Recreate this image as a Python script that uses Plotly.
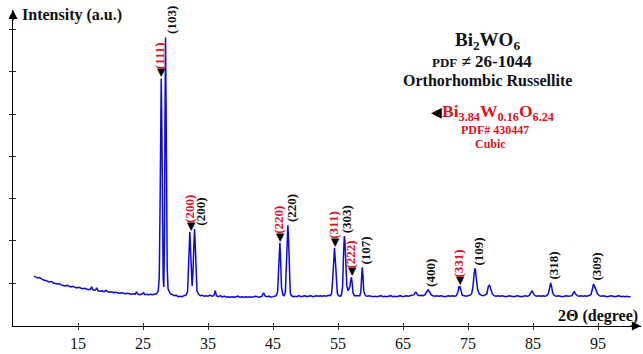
import plotly.graph_objects as go

# ---------------- data ----------------
two_theta = [
    8.2, 8.5, 8.8, 9.1, 9.4, 9.7, 10.0, 10.3, 10.6, 10.9, 11.2, 11.5, 11.8, 12.1, 12.4, 12.7,
    13.0, 13.3, 13.6, 13.9, 14.2, 14.5, 14.8, 15.1, 15.4, 15.7, 16.0, 16.3, 16.6, 16.9, 17.1,
    17.3, 17.6, 17.9, 18.1, 18.4, 18.7, 19.0, 19.3, 19.6, 19.9, 20.2, 20.5, 20.8, 21.1, 21.4,
    21.7, 22.0, 22.3, 22.6, 22.9, 23.2, 23.5, 23.8, 24.0, 24.2, 24.5, 24.8, 25.1, 25.3, 25.6,
    25.9, 26.2, 26.5, 26.8, 27.1, 27.35, 27.5, 27.62, 27.72, 27.8, 27.88, 27.98, 28.1, 28.2,
    28.3, 28.38, 28.46, 28.54, 28.62, 28.72, 28.85, 29.0, 29.2, 29.5, 29.8, 30.1, 30.4, 30.7,
    31.0, 31.3, 31.6, 31.85, 32.0, 32.1, 32.2, 32.3, 32.42, 32.55, 32.68, 32.8, 32.92, 33.02,
    33.15, 33.3, 33.5, 33.8, 34.1, 34.4, 34.7, 35.0, 35.3, 35.6, 35.9, 36.1, 36.3, 36.6, 36.9,
    37.2, 37.5, 37.8, 38.1, 38.4, 38.7, 39.0, 39.3, 39.6, 39.9, 40.2, 40.5, 40.8, 41.1, 41.4,
    41.7, 42.0, 42.3, 42.6, 42.9, 43.3, 43.55, 43.8, 44.1, 44.4, 44.7, 45.0, 45.3, 45.5, 45.7,
    45.85, 45.95, 46.05, 46.15, 46.3, 46.5, 46.7, 46.9, 47.05, 47.18, 47.28, 47.38, 47.5, 47.65,
    47.85, 48.1, 48.4, 48.7, 49.0, 49.3, 49.6, 49.9, 50.2, 50.5, 50.8, 51.1, 51.4, 51.7, 52.0,
    52.3, 52.6, 52.9, 53.2, 53.5, 53.8, 54.0, 54.15, 54.3, 54.45, 54.6, 54.75, 54.9, 55.1, 55.3,
    55.5, 55.7, 55.85, 55.97, 56.07, 56.2, 56.35, 56.55, 56.8, 56.95, 57.05, 57.15, 57.3, 57.5,
    57.8, 58.1, 58.35, 58.5, 58.62, 58.72, 58.82, 58.95, 59.2, 59.5, 59.8, 60.1, 60.4, 60.7,
    61.0, 61.3, 61.6, 61.9, 62.2, 62.5, 62.8, 63.1, 63.4, 63.7, 64.0, 64.3, 64.6, 64.9, 65.2,
    65.5, 65.8, 66.1, 66.4, 66.7, 66.95, 67.2, 67.5, 67.8, 68.1, 68.4, 68.65, 68.85, 69.05,
    69.3, 69.6, 69.9, 70.2, 70.5, 70.8, 71.1, 71.4, 71.7, 72.0, 72.3, 72.6, 72.9, 73.2, 73.45,
    73.6, 73.75, 73.9, 74.1, 74.4, 74.7, 75.0, 75.3, 75.55, 75.75, 75.95, 76.1, 76.25, 76.45,
    76.7, 77.0, 77.3, 77.6, 77.9, 78.1, 78.3, 78.5, 78.7, 79.0, 79.3, 79.6, 79.9, 80.2, 80.5,
    80.8, 81.1, 81.4, 81.7, 82.0, 82.3, 82.6, 82.9, 83.2, 83.5, 83.8, 84.1, 84.4, 84.65, 84.85,
    85.05, 85.3, 85.6, 85.9, 86.2, 86.5, 86.8, 87.1, 87.35, 87.55, 87.7, 87.85, 88.05, 88.3,
    88.6, 88.9, 89.2, 89.5, 89.8, 90.1, 90.4, 90.7, 91.0, 91.2, 91.35, 91.5, 91.8, 92.1, 92.4,
    92.7, 93.0, 93.3, 93.6, 93.9, 94.1, 94.3, 94.5, 94.7, 94.9, 95.2, 95.5, 95.8, 96.1, 96.4,
    96.7, 97.0, 97.3, 97.6, 97.9, 98.2, 98.5, 98.8, 99.1, 99.4, 99.7, 100.0,
]
intensity = [
    51, 50, 49, 49.5, 48, 47, 46.5, 46, 45, 45.5, 44, 43.5, 43, 43.5, 42, 41.5,
    41, 41.5, 40.5, 40, 40.5, 39.5, 39, 39.5, 38.5, 38, 38.5, 37.5, 37, 37.5, 40,
    37, 36.5, 38.5, 36, 35.5, 36, 35, 36.5, 35, 34.5, 35, 34, 34.5, 34, 33.5,
    34, 33.5, 33, 33.5, 33, 32.5, 33, 32.5, 35, 32.5, 32, 32.5, 34, 32, 32.5,
    32, 32.5, 32, 32.5, 33, 36, 50, 120, 210, 253, 215, 120, 48, 40,
    90, 210, 295, 230, 130, 60, 38, 35, 33, 32, 31, 31.5, 30, 30.5,
    30, 31, 31.5, 35, 55, 80, 96, 80, 50, 41, 55, 85, 99, 85,
    50, 36, 33, 31, 31.5, 30.5, 31, 30.5, 31.5, 30.5, 31, 36, 31, 30, 31,
    29.5, 30.5, 29.5, 30, 29.5, 30, 29.5, 30, 30.5, 29.5, 30, 29.5, 30, 29.5, 30,
    29.5, 30, 30.5, 30, 29.5, 30.5, 34, 30.5, 30, 30.5, 29.5, 30, 30.5, 31, 35,
    60, 80, 85, 70, 40, 32, 31, 35, 65, 95, 103, 90, 55, 34,
    31, 30, 30.5, 30, 31, 30, 30.5, 31, 30, 30.5, 31, 30, 30.5, 31, 30.5,
    31, 30.5, 31, 30.5, 31.5, 31, 33, 45, 70, 80, 65, 42, 33, 31, 30.5,
    31, 40, 75, 92, 85, 55, 41, 36, 40, 46, 50, 45, 34, 31,
    31, 30.5, 31, 35, 48, 60, 52, 36, 31, 30.5, 31, 30.5, 30, 30.5,
    30, 30.5, 31, 30, 30.5, 30, 30.5, 31, 30, 30.5, 30, 30.5, 31, 30, 30.5,
    31, 30.5, 31, 31.5, 32, 35, 32, 31, 31.5, 31, 32, 35, 37, 35,
    32, 31, 30.5, 31, 30.5, 31, 30.5, 30, 30.5, 31, 30.5, 31, 30.5, 31, 35,
    40, 40, 35, 31.5, 31, 30.5, 31, 31.5, 33, 40, 55, 59, 50, 38,
    33, 31.5, 31, 31.5, 33, 40, 42, 38, 33, 31, 30.5, 31, 30.5, 31, 30.5,
    30, 30.5, 31, 30.5, 30, 30.5, 31, 30.5, 30, 30.5, 31, 30.5, 31, 34, 36,
    33, 31, 30.5, 31, 30.5, 31, 30.5, 31, 33, 38, 44, 40, 33, 31,
    30.5, 31, 30.5, 30, 30.5, 31, 30.5, 30.5, 31, 34, 35, 33, 31, 30.5, 31,
    30.5, 31, 30.5, 31, 32, 37, 43, 40, 36, 33, 31, 30.5, 31, 30.5, 30,
    30.5, 31, 30.5, 30, 30.5, 31, 30, 30.5, 30, 30.5, 30, 30,
]

# Bi3.84W0.16O6.24 (cubic) reflections -- red, with triangle marker
cubic_pos = [27.8, 32.2, 46.05, 54.45, 57.05, 73.7]
cubic_top = [253, 96, 85, 80, 50, 40]
cubic_hkl = ["(111)", "(200)", "(220)", "(311)", "(222)", "(331)"]

# Bi2WO6 (orthorhombic russellite) reflections -- black
ortho_pos = [28.46, 32.92, 47.28, 55.97, 58.72, 68.85, 76.1, 87.7, 94.3]
ortho_top = [295, 99, 103, 92, 60, 37, 59, 44, 43]
ortho_hkl = ["(103)", "(200)", "(220)", "(303)", "(107)", "(400)", "(109)", "(318)", "(309)"]

x_ticks = [15, 25, 35, 45, 55, 65, 75, 85, 95]
y_ticks = [43, 87, 130, 173, 216, 260, 303]

RED = "#e0101c"
BLUE = "#0b0bd4"
SERIF = "Liberation Serif, Times New Roman, serif"

fig = go.Figure()
fig.add_trace(go.Scatter(x=two_theta, y=intensity, mode="lines",
                         line=dict(color=BLUE, width=1.5), showlegend=False,
                         hoverinfo="skip"))
# dummy trace for overlay axes (crossing ticks)
fig.add_trace(go.Scatter(x=[None], y=[None], xaxis="x2", yaxis="y2",
                         showlegend=False, hoverinfo="skip"))

ann = []
for x, y, t in zip(cubic_pos, cubic_top, cubic_hkl):
    ann.append(dict(x=x, y=y, xref="x", yref="y", showarrow=False, textangle=-90,
                    xanchor="center", yanchor="bottom", yshift=-1, xshift=-1,
                    text=f"<span style='color:black;font-size:11px'>◀</span><b>{t}</b>",
                    font=dict(family=SERIF, size=13, color=RED)))
for x, y, t in zip(ortho_pos, ortho_top, ortho_hkl):
    xs = 6 if t in ("(103)", "(200)") else 3
    ann.append(dict(x=x, y=y, xref="x", yref="y", showarrow=False, textangle=-90,
                    xanchor="center", yanchor="bottom", yshift=1, xshift=xs,
                    text=f"<b>{t}</b>",
                    font=dict(family=SERIF, size=13, color="#111")))

# phase legend text block
ann += [
    dict(x=78.0, y=291, text="<b>Bi<sub>2</sub>WO<sub>6</sub></b>",
         font=dict(family=SERIF, size=19, color="#111")),
    dict(x=77.1, y=270,
         text="<b><span style='font-size:13px'>PDF</span> ≠ 26-1044</b>",
         font=dict(family=SERIF, size=17, color="#111")),
    dict(x=78.0, y=251, text="<b>Orthorhombic Russellite</b>",
         font=dict(family=SERIF, size=16, color="#111")),
    dict(x=78.8, y=218,
         text="<span style='color:black;font-size:14px'>◀</span><b>Bi<sub>3.84</sub>W<sub>0.16</sub>O<sub>6.24</sub></b>",
         font=dict(family=SERIF, size=17.5, color=RED)),
    dict(x=79.1, y=200, text="<b>PDF# 430447</b>",
         font=dict(family=SERIF, size=12, color=RED)),
    dict(x=78.4, y=186, text="<b>Cubic</b>",
         font=dict(family=SERIF, size=12, color=RED)),
]
for a in ann[-6:]:
    a.update(xref="x", yref="y", showarrow=False, xanchor="center", yanchor="middle")

# axis titles
ann += [
    dict(x=6.1, y=318, xref="x", yref="y", xanchor="left", yanchor="middle",
         showarrow=False, text="<b>Intensity (a.u.)</b>",
         font=dict(family=SERIF, size=16, color="#111")),
    dict(x=101.4, y=10, xref="x", yref="y", xanchor="right", yanchor="middle",
         showarrow=False, text="<b>2Θ (degree)</b>",
         font=dict(family=SERIF, size=16, color="#111")),
    # axis arrows
    dict(x=0, y=1, xref="paper", yref="paper", ax=0, ay=12, text="", showarrow=True,
         arrowhead=2, arrowsize=1.3, arrowwidth=1.4, arrowcolor="black", standoff=0),
    dict(x=1, y=0, xref="paper", yref="paper", ax=-12, ay=0, text="", showarrow=True,
         arrowhead=2, arrowsize=1.3, arrowwidth=1.4, arrowcolor="black", standoff=0),
]

xr = [5, 101.6]
yr = [0, 323]
fig.update_layout(
    width=643, height=354,
    margin=dict(l=13, r=2, t=10, b=21),
    paper_bgcolor="white", plot_bgcolor="white",
    showlegend=False,
    annotations=ann,
    xaxis=dict(range=xr, showgrid=False, zeroline=False, showline=True,
               linecolor="black", linewidth=1.4, ticks="outside", ticklen=3,
               tickcolor="#333", tickwidth=1, tickvals=x_ticks,
               tickfont=dict(family=SERIF, size=16, color="#111")),
    yaxis=dict(range=yr, showgrid=False, zeroline=False, showline=True,
               linecolor="black", linewidth=1.4, ticks="outside", ticklen=3,
               tickcolor="#333", tickwidth=1, tickvals=y_ticks,
               showticklabels=False),
    xaxis2=dict(range=xr, overlaying="x", anchor="y2", showgrid=False,
                zeroline=False, showline=False, ticks="inside", ticklen=3,
                tickcolor="#333", tickwidth=1, tickvals=x_ticks,
                showticklabels=False, side="bottom"),
    yaxis2=dict(range=yr, overlaying="y", anchor="x2", showgrid=False,
                zeroline=False, showline=False, ticks="inside", ticklen=3,
                tickcolor="#333", tickwidth=1, tickvals=y_ticks,
                showticklabels=False, side="left"),
)

fig.write_html("out.html")
